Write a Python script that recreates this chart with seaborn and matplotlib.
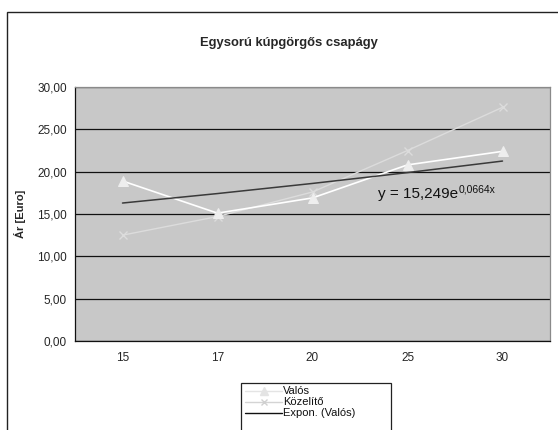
import numpy as np
import pandas as pd
import matplotlib
matplotlib.use("Agg")
import matplotlib.pyplot as plt
from matplotlib.patches import Rectangle
from matplotlib.lines import Line2D
import seaborn as sns

# Bearing diameter categories and prices
categories = ["15", "17", "20", "25", "30"]
valos = [18.9, 15.1, 16.9, 20.8, 22.4]
kozelito = [12.5, 14.7, 17.6, 22.5, 27.6]
# exponential trendline of the "Valós" series: y = a * exp(b * x), x = 1..n
trend_a = 15.249
trend_b = 0.0664
y_ticks = [0, 5, 10, 15, 20, 25, 30]
legend_labels = ["Valós", "Közelítő", "Expon. (Valós)"]

sns.set_style("white")
plt.rcParams["font.family"] = ["Liberation Sans", "DejaVu Sans"]

W, H = 558, 430
fig = plt.figure(figsize=(W / 100, H / 100), dpi=100)


def fx(px):
    return px / W


def fy(py):
    return 1 - py / H


# outer chart frame
fig.patches.append(Rectangle((fx(7), -0.1), 1.0, fy(12) + 0.1,
                             transform=fig.transFigure, fill=False,
                             edgecolor="#222222", linewidth=1.0))

left, right, top, bottom = 75, 550, 87, 341
ax = fig.add_axes([fx(left), fy(bottom), (right - left) / W, (bottom - top) / H])
ax.set_facecolor("#c8c8c8")

pos = np.arange(len(categories)) + 0.5
df = pd.DataFrame({"pos": pos, "Valós": valos, "Közelítő": kozelito})

sns.lineplot(data=df, x="pos", y="Közelítő", ax=ax, color="#dcdcdc", linewidth=1.0,
             marker="x", markersize=6, markeredgecolor="#dcdcdc", markeredgewidth=1.0)
sns.lineplot(data=df, x="pos", y="Valós", ax=ax, color="#ffffff", linewidth=1.2,
             marker="^", markersize=7.5, markerfacecolor="#eeeeee", markeredgecolor="#eeeeee")

xi = np.arange(1, len(categories) + 1)
trend = trend_a * np.exp(trend_b * xi)
sns.lineplot(x=pos, y=trend, ax=ax, color="#3a3a3a", linewidth=1.1)

# trendline equation, with the exponent as a raised smaller text
eq = ax.text(3.19, 17.4, "y = 15,249e", fontsize=11, color="#111111",
             ha="left", va="center")
ax.annotate("0,0664x", xy=(1, 1), xycoords=eq,
            xytext=(0.5, -2.3), textcoords="offset points",
            fontsize=7.5, color="#111111", ha="left", va="center")

ax.set_xlim(0, len(categories))
ax.set_ylim(0, 30)
ax.set_yticks(y_ticks)
ax.set_yticklabels([f"{v:.2f}".replace(".", ",") for v in y_ticks], fontsize=8.5)
ax.yaxis.grid(True, color="#111111", linewidth=0.9)
ax.set_axisbelow(True)

ax.set_xticks(np.arange(len(categories) + 1))
ax.set_xticklabels([])
ax.set_xticks(pos, minor=True)
ax.set_xticklabels(categories, minor=True, fontsize=8.5)
ax.tick_params(axis="x", which="major", direction="out", length=4, color="#111111", width=0.8)
ax.tick_params(axis="x", which="minor", length=0, pad=8)
ax.tick_params(axis="y", direction="out", length=4, color="#111111", width=0.8, pad=2)

ax.set_xlabel("")
ax.set_ylabel("Ár [Euro]", fontsize=8, fontweight="bold", labelpad=8)

for side in ["top", "right"]:
    ax.spines[side].set_color("#8a8a8a")
    ax.spines[side].set_linewidth(0.9)
for side in ["left", "bottom"]:
    ax.spines[side].set_color("#111111")
    ax.spines[side].set_linewidth(0.9)

fig.text(fx(289), fy(43), "Egysorú kúpgörgős csapágy", fontsize=9.4,
         fontweight="bold", ha="center", va="center")

# legend box, running past the bottom of the chart area
fig.patches.append(Rectangle((fx(241), -0.1), fx(391) - fx(241), fy(383) + 0.1,
                             transform=fig.transFigure, fill=True, facecolor="white",
                             edgecolor="#222222", linewidth=0.9, zorder=5))
legend_lines = ["#e4e4e4", "#d4d4d4", "#111111"]
legend_markers = [
    dict(marker="^", markersize=5.5, markerfacecolor="#e4e4e4", markeredgecolor="#e4e4e4"),
    dict(marker="x", markersize=5, markeredgecolor="#d0d0d0", markeredgewidth=1.0),
    None,
]
row_y = [391, 402, 412.5]
for label, lc, mk, ry in zip(legend_labels, legend_lines, legend_markers, row_y):
    fig.add_artist(Line2D([fx(245), fx(282)], [fy(ry), fy(ry)], color=lc, linewidth=1.0,
                          transform=fig.transFigure, zorder=6))
    if mk is not None:
        fig.add_artist(Line2D([fx(263.5)], [fy(ry)], linestyle="none",
                              transform=fig.transFigure, zorder=7, **mk))
    fig.text(fx(283), fy(ry), label, fontsize=8, ha="left", va="center",
             color="#111111", zorder=6)

fig.savefig("out.png", dpi=100)
